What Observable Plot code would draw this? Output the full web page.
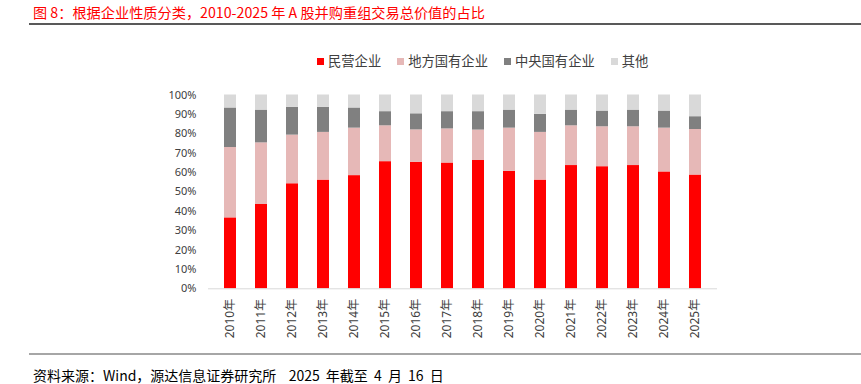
<!DOCTYPE html>
<html>
<head>
<meta charset="utf-8">
<script src="https://cdn.jsdelivr.net/npm/d3@7"></script>
<script src="https://cdn.jsdelivr.net/npm/@observablehq/plot@0.6"></script>
<style>
  html, body { margin: 0; padding: 0; background: #fff; }
  #page { position: relative; width: 861px; height: 384px; overflow: hidden; font-family: "Noto Sans CJK SC", "Noto Sans", sans-serif; }
  #title { position: absolute; left: 33px; top: 2px; font-size: 14.2px; line-height: 20px; color: #ff0000; white-space: nowrap; }
  #rule1 { position: absolute; left: 29px; top: 23px; width: 832px; height: 2px; background: #595959; }
  #legend { position: absolute; left: 317px; top: 51px; display: flex; font-size: 13.3px; line-height: 20px; color: #404040; white-space: nowrap; }
  .item { display: flex; align-items: center; margin-right: 16px; }
  .sw { width: 7px; height: 7px; margin-right: 4px; }
  #chart { position: absolute; left: 0; top: 70px; }
  #rule2 { position: absolute; left: 29px; top: 353px; width: 832px; height: 2px; background: #a6a6a6; }
  #source { position: absolute; left: 33px; top: 368px; font-size: 14px; line-height: 14px; word-spacing: 3px; color: #000; white-space: nowrap; }
</style>
</head>
<body>
<div id="page">
  <div id="title">图 8：根据企业性质分类，2010-2025 年 A 股并购重组交易总价值的占比</div>
  <div id="rule1"></div>
  <div id="legend"></div>
  <div id="chart"></div>
  <div id="rule2"></div>
  <div id="source">资料来源：Wind，源达信息证券研究所&nbsp; 2025 年截至 4 月 16 日</div>
</div>
<script>
const years = ["2010年","2011年","2012年","2013年","2014年","2015年","2016年","2017年","2018年","2019年","2020年","2021年","2022年","2023年","2024年","2025年"];
const seriesNames = ["民营企业", "地方国有企业", "中央国有企业", "其他"];
const seriesColors = ["#ff0000", "#e6b8b7", "#808080", "#d9d9d9"];
const privateEnt = [36.6, 43.5, 54.2, 56.1, 58.4, 65.6, 65.3, 64.9, 66.2, 60.6, 56.1, 63.6, 63.0, 63.6, 60.3, 58.7];
const localSOE   = [36.3, 31.8, 25.1, 24.6, 24.5, 18.5, 16.7, 17.6, 15.7, 22.3, 24.6, 20.5, 20.6, 20.0, 22.6, 23.5];
const centralSOE = [20.4, 16.9, 14.3, 12.9, 10.4,  7.3,  8.3,  8.9,  9.5,  9.3,  9.3,  8.1,  8.1,  8.6,  8.8,  6.6];
const others     = [ 6.7,  7.8,  6.4,  6.4,  6.7,  8.6,  9.7,  8.6,  8.6,  7.8, 10.0,  7.8,  8.3,  7.8,  8.3, 11.2];
const yTicks = [0, 0.1, 0.2, 0.3, 0.4, 0.5, 0.6, 0.7, 0.8, 0.9, 1.0];

const seriesValues = [privateEnt, localSOE, centralSOE, others];
const data = [];
years.forEach((y, i) => {
  seriesNames.forEach((s, k) => data.push({year: y, series: s, value: seriesValues[k][i]}));
});

// legend
const legend = document.getElementById("legend");
seriesNames.forEach((s, k) => {
  const it = document.createElement("div");
  it.className = "item";
  it.innerHTML = `<span class="sw" style="background:${seriesColors[k]}"></span><span>${s}</span>`;
  legend.appendChild(it);
});

const chart = Plot.plot({
  width: 861,
  height: 280,
  marginLeft: 208,
  marginRight: 144,
  marginTop: 24.5,
  marginBottom: 61.7,
  style: {fontFamily: "'Noto Sans', 'Noto Sans CJK SC', sans-serif", fontSize: "11px", color: "#404040", background: "#fff"},
  x: {domain: years, paddingInner: 0.615, paddingOuter: 0.31, label: null},
  y: {domain: [0, 1], label: null},
  color: {domain: seriesNames, range: seriesColors},
  marks: [
    Plot.barY(data, Plot.stackY({offset: "normalize", order: seriesNames}, {x: "year", y: "value", fill: "series", z: "series"})),
    Plot.ruleY([0], {stroke: "#d9d9d9", strokeWidth: 1}),
    Plot.axisY(yTicks, {tickSize: 0, tickPadding: 12, tickFormat: d => Math.round(d * 100) + "%", label: null, fill: "#404040"}),
    Plot.axisX({tickSize: 0, tickPadding: 10, tickRotate: -90, label: null, fill: "#404040", fontSize: 12})
  ]
});
document.getElementById("chart").appendChild(chart);
</script>
</body>
</html>
